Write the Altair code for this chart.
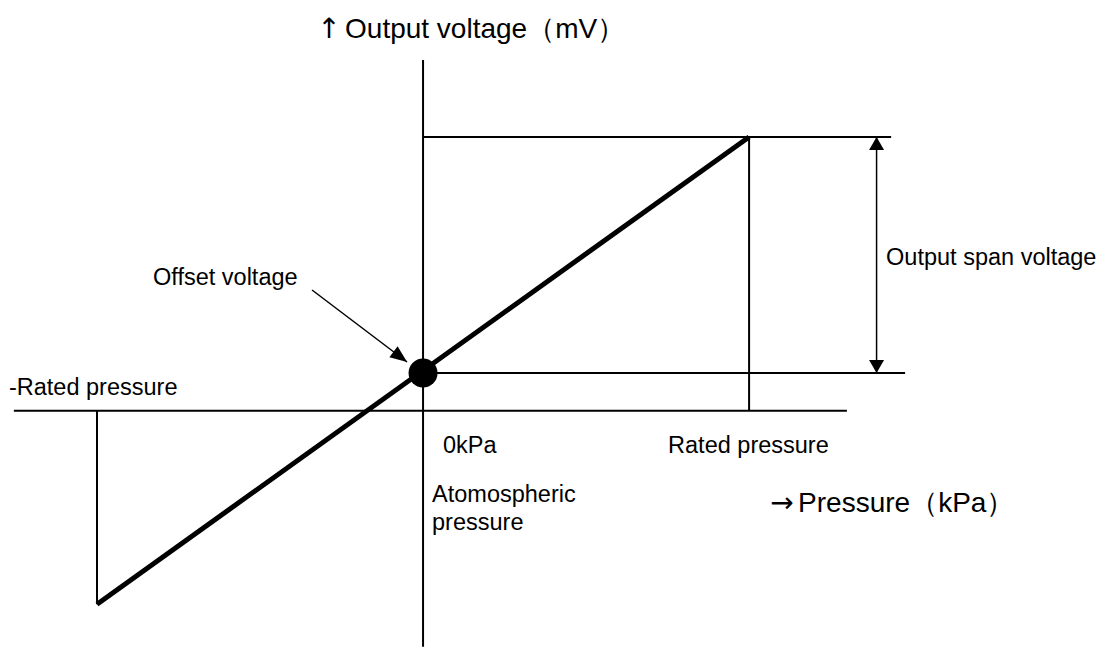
import altair as alt
import pandas as pd

# ---- diagram values (pressure in units of rated pressure, voltage in arbitrary units) ----
rated_p = [-1.0, 1.0]            # -rated, +rated pressure
line_v = [-0.82, 1.16]           # output voltage at -rated / +rated
offset_v = 0.16                  # offset voltage at 0 kPa

# thin guide / axis segments: x, y, x2, y2
seg_x = [0.0, -1.255, 0.0, 0.0, 1.0, -1.0]
seg_y = [-1.0, 0.0, 1.16, 0.16, 0.0, 0.0]
seg_x2 = [0.0, 1.30, 1.4356, 1.4785, 1.0, -1.0]
seg_y2 = [1.486, 0.0, 1.16, 0.16, 1.16, -0.82]

# span arrow and annotation arrow
span_x = 1.391
annot_from = [-0.3405, 0.5114]
annot_to = [-0.049, 0.2064]

# labels
arrow_labels = ["↑", "→"]
arrow_x = [-0.2883, 1.1012]
arrow_y = [1.5805, -0.4292]
big_labels = ["Output voltage（mV）", "Pressure（kPa）"]
big_x = [-0.2393, 1.1503]
big_y = [1.5805, -0.4292]
small_labels = ["Offset voltage", "-Rated pressure", "0kPa", "Rated pressure",
                "Atomospheric", "pressure", "Output span voltage"]
small_x = [-0.8282, -1.27, 0.0613, 0.7515, 0.0276, 0.0276, 1.4202]
small_y = [0.5326, 0.0665, -0.1792, -0.1792, -0.3869, -0.5055, 0.6174]

XDOM = [-1.273, 2.064]
YDOM = [-1.0013, 1.7064]
xs = alt.Scale(domain=XDOM, nice=False, zero=False)
ys = alt.Scale(domain=YDOM, nice=False, zero=False)
FONT = "Liberation Sans"


def xy():
    return dict(x=alt.X("x:Q", scale=xs, axis=None), y=alt.Y("y:Q", scale=ys, axis=None))


segs = pd.DataFrame({"x": seg_x, "y": seg_y, "x2": seg_x2, "y2": seg_y2})
thin = alt.Chart(segs).mark_rule(color="black", strokeWidth=2).encode(**xy(), x2="x2:Q", y2="y2:Q")

thick_df = pd.DataFrame({"x": [rated_p[0]], "y": [line_v[0]], "x2": [rated_p[1]], "y2": [line_v[1]]})
thick = alt.Chart(thick_df).mark_rule(color="black", strokeWidth=5, strokeCap="butt").encode(
    **xy(), x2="x2:Q", y2="y2:Q")

arr_df = pd.DataFrame({"x": [span_x, annot_from[0]], "y": [offset_v, annot_from[1]],
                       "x2": [span_x, annot_to[0]], "y2": [line_v[1], annot_to[1]]})
arrows = alt.Chart(arr_df).mark_rule(color="black", strokeWidth=1.5).encode(**xy(), x2="x2:Q", y2="y2:Q")

up_head = alt.Chart(pd.DataFrame({"x": [span_x], "y": [line_v[1]]})).mark_point(
    shape="M0,0L-0.577,1L0.577,1Z", size=676, filled=True, color="black", opacity=1, strokeWidth=0
).encode(**xy())

down_head = alt.Chart(pd.DataFrame({"x": [span_x], "y": [offset_v]})).mark_point(
    shape="M0,0L-0.577,-1L0.577,-1Z", size=676, filled=True, color="black", opacity=1, strokeWidth=0
).encode(**xy())

annot_head = alt.Chart(pd.DataFrame({"x": [annot_to[0]], "y": [annot_to[1]]})).mark_point(
    shape="M0,0L-1,-0.4L-1,0.4Z", size=1156, angle=37, filled=True, color="black", opacity=1, strokeWidth=0
).encode(**xy())

dot = alt.Chart(pd.DataFrame({"x": [0.0], "y": [offset_v]})).mark_point(
    shape="circle", size=841, filled=True, color="black", opacity=1
).encode(**xy())

arrow_txt = alt.Chart(pd.DataFrame({"t": arrow_labels, "x": arrow_x, "y": arrow_y})).mark_text(
    align="center", baseline="alphabetic", fontSize=28, font="DejaVu Sans", color="black"
).encode(**xy(), text="t:N")

big_txt = alt.Chart(pd.DataFrame({"t": big_labels, "x": big_x, "y": big_y})).mark_text(
    align="left", baseline="alphabetic", fontSize=28, font=FONT, color="black"
).encode(**xy(), text="t:N")

small_txt = alt.Chart(pd.DataFrame({"t": small_labels, "x": small_x, "y": small_y})).mark_text(
    align="left", baseline="alphabetic", fontSize=23.5, font=FONT, color="black"
).encode(**xy(), text="t:N")

chart = alt.layer(thin, arrows, thick, up_head, down_head, annot_head, dot,
                  arrow_txt, big_txt, small_txt).properties(
    width=1088, height=639, padding=0,
    autosize=alt.AutoSizeParams(type="none"),
    background="white"
).configure_view(stroke=None)

chart.save("out.html", embed_options={"renderer": "svg", "actions": False})
